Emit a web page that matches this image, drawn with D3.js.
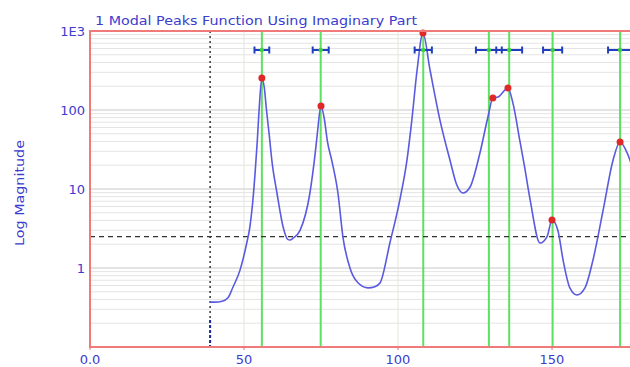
<!DOCTYPE html>
<html>
<head>
<meta charset="utf-8">
<script src="https://cdn.jsdelivr.net/npm/d3@7"></script>
<style>
body { margin: 0; background: #fff; }
text { font-family: "DejaVu Sans", Verdana, sans-serif; }
</style>
</head>
<body>
<div id="chart"></div>
<script>
// magnitude curve
var freq = [39.0, 40.5, 42.9, 44.8, 46.4, 48.7, 49.7, 50.8, 51.9, 52.9, 53.6, 54.3, 54.9, 55.8, 56.6, 57.3, 58.2, 59.1, 60.7, 62.7, 64.2, 64.9, 66.0, 68.2, 71.4, 73.1, 73.8, 75.0, 76.2, 77.0, 78.6, 80.5, 82.1, 84.4, 87.0, 90.3, 92.5, 94.2, 97.4, 100.6, 102.9, 104.5, 106.2, 108.1, 110.4, 113.6, 116.9, 119.0, 121.1, 123.4, 126.6, 129.2, 130.8, 132.5, 135.7, 137.3, 139.6, 141.0, 142.9, 146.1, 148.4, 150.0, 151.9, 153.6, 155.8, 158.1, 160.7, 163.3, 166.6, 169.8, 172.1, 174.4, 176.9];
var mag  = [0.37, 0.37, 0.38, 0.42, 0.57, 0.94, 1.3, 2.0, 3.3, 7.3, 16, 40, 100, 254, 190, 100, 48, 22, 8.9, 3.3, 2.3, 2.26, 2.4, 3.0, 8.9, 28, 50, 112, 72, 42, 22, 8.9, 2.5, 1.0, 0.65, 0.56, 0.58, 0.65, 2.1, 7.3, 23, 75, 321, 944, 321, 75, 23, 11.5, 8.9, 10.6, 28.6, 81.5, 142, 146, 190, 123, 40, 20, 7.3, 2.07, 2.5, 4.05, 3.0, 1.26, 0.56, 0.455, 0.56, 1.26, 5.4, 23, 39.4, 28.6, 15];

// modal peaks (green lines + error bars)
var modeFreq  = [55.8, 74.9, 108.2, 129.5, 136.1, 150.2, 172.1];
var modeWidth = [2.4, 2.6, 2.8, 4.2, 4.2, 3.1, 3.9];

// red peak markers
var peakFreq = [55.8, 75.0, 108.1, 130.8, 135.7, 150.0, 172.1];
var peakMag  = [254, 112, 944, 142, 190, 4.05, 39.4];

var cursorFreq = 39;
var threshold = 2.5;

var xTicks = [0, 50, 100, 150];
var xTickLabels = ["0.0", "50", "100", "150"];
var yTicks = [1, 10, 100, 1000];
var yTickLabels = ["1", "10", "100", "1E3"];

var W = 630, H = 367;
var pL = 90, pT = 31, pB = 347, pR = 706;

var svg = d3.select("#chart").append("svg")
  .attr("width", W)
  .attr("height", H)
  .style("display", "block");

var x = d3.scaleLinear().domain([0, 200]).range([pL, pR]);
var y = d3.scaleLog().domain([0.1, 1000]).range([pB, pT]);

var blue = "#3c3ccf";

// minor log grid
var minor = [];
for (var d = 0.1; d < 999; d *= 10) {
  for (var k = 2; k <= 9; k++) minor.push(d * k);
}
svg.append("g").selectAll("line").data(minor)
  .enter().append("line")
  .attr("x1", pL).attr("x2", pR)
  .attr("y1", function(d) { return y(d); })
  .attr("y2", function(d) { return y(d); })
  .attr("stroke", "#e4e4e4")
  .attr("stroke-width", 1);

svg.append("g").selectAll("line").data(yTicks)
  .enter().append("line")
  .attr("x1", pL).attr("x2", pR)
  .attr("y1", function(d) { return y(d); })
  .attr("y2", function(d) { return y(d); })
  .attr("stroke", "#dadada")
  .attr("stroke-width", 1.5);

svg.append("g").selectAll("line").data(xTicks.slice(1))
  .enter().append("line")
  .attr("x1", function(d) { return x(d); })
  .attr("x2", function(d) { return x(d); })
  .attr("y1", pT).attr("y2", pB)
  .attr("stroke", "#e6e6dc")
  .attr("stroke-width", 1);

// green mode lines
svg.append("g").selectAll("line").data(modeFreq)
  .enter().append("line")
  .attr("x1", function(d) { return x(d); })
  .attr("x2", function(d) { return x(d); })
  .attr("y1", pT).attr("y2", pB)
  .attr("stroke", "#5fe05f")
  .attr("stroke-width", 2);

// cursor and threshold
svg.append("line")
  .attr("x1", x(cursorFreq)).attr("x2", x(cursorFreq))
  .attr("y1", pT).attr("y2", pB)
  .attr("stroke", "#333")
  .attr("stroke-width", 1.5)
  .attr("stroke-dasharray", "2,3");
svg.append("line")
  .attr("x1", x(cursorFreq)).attr("x2", x(cursorFreq))
  .attr("y1", y(0.22)).attr("y2", pB)
  .attr("stroke", "#1a2a9a")
  .attr("stroke-width", 2)
  .attr("stroke-dasharray", "3,2");
svg.append("line")
  .attr("x1", pL).attr("x2", pR)
  .attr("y1", y(threshold)).attr("y2", y(threshold))
  .attr("stroke", "#333")
  .attr("stroke-width", 1.2)
  .attr("stroke-dasharray", "5,4");

// magnitude curve
var pts = freq.map(function(f, i) { return [f, mag[i]]; });
var line = d3.line()
  .curve(d3.curveMonotoneX)
  .x(function(d) { return x(d[0]); })
  .y(function(d) { return y(d[1]); });
svg.append("path")
  .datum(pts)
  .attr("d", line)
  .attr("fill", "none")
  .attr("stroke", "#5a5ae0")
  .attr("stroke-width", 1.6);

// error bars
var barY = 50;
var eb = svg.append("g");
modeFreq.forEach(function(f, i) {
  var a = x(f - modeWidth[i]), b = x(f + modeWidth[i]);
  eb.append("line").attr("x1", a).attr("x2", b).attr("y1", barY).attr("y2", barY)
    .attr("stroke", "#1f3fc0").attr("stroke-width", 2);
  eb.append("line").attr("x1", a).attr("x2", a).attr("y1", barY - 3.5).attr("y2", barY + 3.5)
    .attr("stroke", "#1f3fc0").attr("stroke-width", 2);
  eb.append("line").attr("x1", b).attr("x2", b).attr("y1", barY - 3.5).attr("y2", barY + 3.5)
    .attr("stroke", "#1f3fc0").attr("stroke-width", 2);
  eb.append("circle").attr("cx", x(f)).attr("cy", barY).attr("r", 2.2)
    .attr("fill", "#40d040");
});

// peak markers
svg.append("g").selectAll("circle").data(peakFreq)
  .enter().append("circle")
  .attr("cx", function(d) { return x(d); })
  .attr("cy", function(d, i) { return y(peakMag[i]); })
  .attr("r", 3.5)
  .attr("fill", "#e02828");

// frame
svg.append("path")
  .attr("d", "M" + pR + "," + pT + "H" + pL + "V" + pB + "H" + pR)
  .attr("fill", "none")
  .attr("stroke", "#f07a7a")
  .attr("stroke-width", 2);

// axis labels
svg.append("g").selectAll("text").data(yTicks)
  .enter().append("text")
  .attr("x", 85)
  .attr("y", function(d) { return y(d); })
  .attr("dy", "0.35em")
  .attr("text-anchor", "end")
  .attr("fill", blue)
  .style("font-size", "13px")
  .text(function(d, i) { return yTickLabels[i]; });

svg.append("g").selectAll("line").data(xTicks)
  .enter().append("line")
  .attr("x1", function(d) { return x(d); })
  .attr("x2", function(d) { return x(d); })
  .attr("y1", pB).attr("y2", pB + 3)
  .attr("stroke", "#e07070");

svg.append("g").selectAll("text").data(xTicks)
  .enter().append("text")
  .attr("x", function(d) { return x(d); })
  .attr("y", 364)
  .attr("text-anchor", "middle")
  .attr("fill", blue)
  .style("font-size", "13px")
  .text(function(d, i) { return xTickLabels[i]; });

svg.append("text")
  .attr("transform", "translate(24,193) rotate(-90)")
  .attr("text-anchor", "middle")
  .attr("fill", blue)
  .attr("textLength", 106)
  .attr("lengthAdjust", "spacingAndGlyphs")
  .style("font-size", "13px")
  .text("Log Magnitude");

svg.append("text")
  .attr("x", 95)
  .attr("y", 25)
  .attr("fill", blue)
  .attr("textLength", 322)
  .attr("lengthAdjust", "spacingAndGlyphs")
  .style("font-size", "13px")
  .text("1 Modal Peaks Function Using Imaginary Part");
</script>
</body>
</html>
